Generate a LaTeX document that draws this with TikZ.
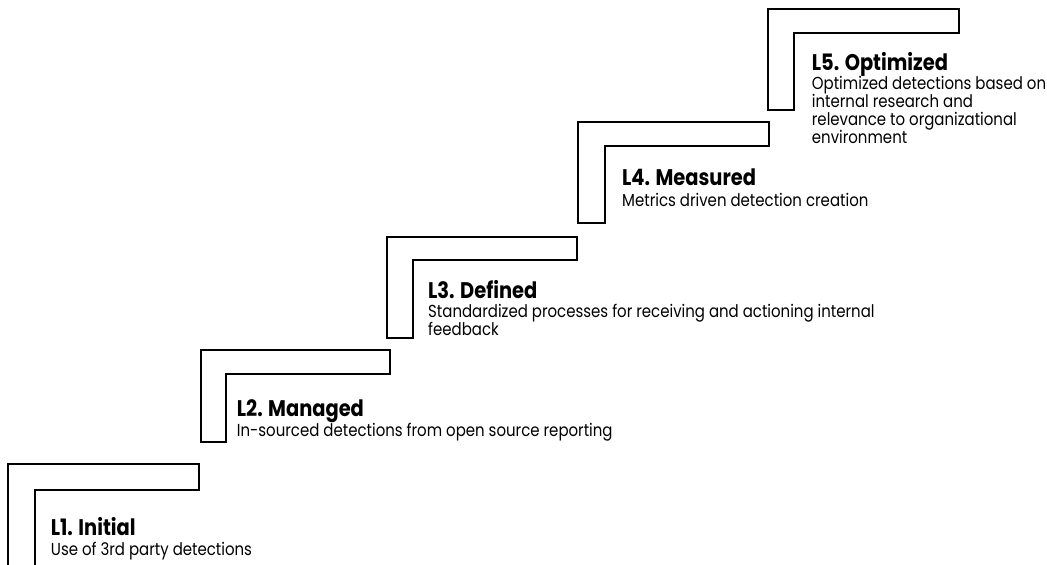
\documentclass[tikz,border=0pt]{standalone}
\usepackage{fontspec}
\setmainfont{Poppins}[FakeStretch=0.86]
\begin{document}
\begin{tikzpicture}[x=1pt,y=-1pt,
  stepline/.style={draw=black, line width=2pt, line join=miter},
  ttl/.style={anchor=base west, inner sep=0pt, font=\fontsize{22.6}{24}\selectfont\bfseries},
  dsc/.style={anchor=base west, inner sep=0pt, font=\fontsize{17.4}{18.3}\selectfont}]
\useasboundingbox (0,0) rectangle (1047,565);
% steps
\draw[stepline] (8,570) -- (8,464) -- (199,464) -- (199,490) -- (35,490) -- (35,570);
\draw[stepline] (201,442) -- (201,350) -- (390,350) -- (390,374) -- (226,374) -- (226,442) -- cycle;
\draw[stepline] (387,338) -- (387,237) -- (577,237) -- (577,260) -- (413,260) -- (413,338) -- cycle;
\draw[stepline] (578,223) -- (578,122) -- (769,122) -- (769,146) -- (605,146) -- (605,223) -- cycle;
\draw[stepline] (768,110) -- (768,9) -- (959,9) -- (959,33) -- (794,33) -- (794,110) -- cycle;
% texts
\node[ttl] (t1) at (50.7,535) {L1. Initial};
\node[dsc] (d1) at (50.7,555.7) {Use of 3rd party detections};
\node[ttl] (t2) at (236.7,416.7) {L2. Managed};
\node[dsc] (d2) at (236.7,436) {In-sourced detections from open source reporting};
\node[ttl] (t3) at (428,298.3) {L3. Defined};
\node[dsc] (d3a) at (428,317.5) {Standardized processes for receiving and actioning internal};
\node[dsc] (d3b) at (428,335.5) {feedback};
\node[ttl] (t4) at (622,185) {L4. Measured};
\node[dsc] (d4) at (622,206) {Metrics driven detection creation};
\node[ttl] (t5) at (811.7,70.7) {L5. Optimized};
\node[dsc] (d5a) at (811.7,89) {Optimized detections based on};
\node[dsc] (d5b) at (811.7,107) {internal research and};
\node[dsc] (d5c) at (811.7,125) {relevance to organizational};
\node[dsc] (d5d) at (811.7,143) {environment};
\end{tikzpicture}
\end{document}
